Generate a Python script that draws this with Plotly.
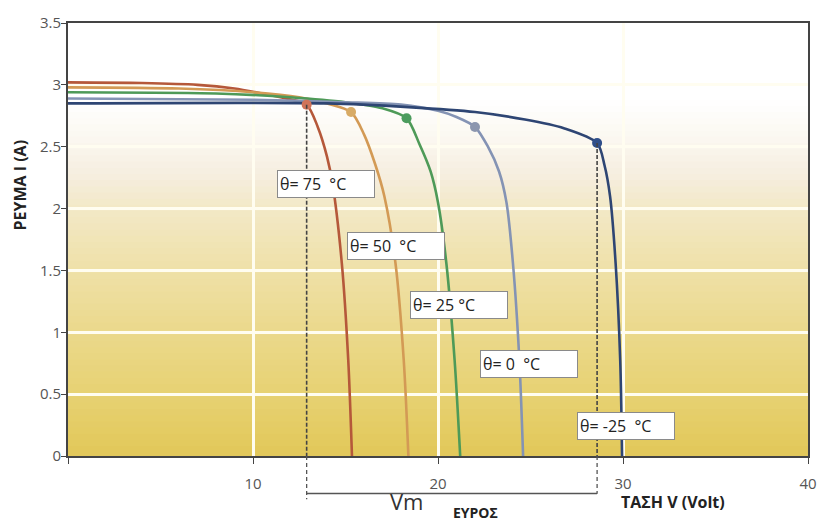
import plotly.graph_objects as go

# ---------------- data ----------------
temps = ["75", "50", "25", "0", "-25"]

v_75 = [0, 4, 7, 9, 10.5, 11.8, 12.9, 13.5, 14.0, 14.3, 14.8, 15.15, 15.35]
i_75 = [3.02, 3.015, 3.0, 2.97, 2.93, 2.89, 2.84, 2.66, 2.42, 2.20, 1.56, 0.77, 0]

v_50 = [0, 6, 10, 12.5, 14.0, 15.3, 16.0, 16.6, 17.1, 17.7, 18.15, 18.4]
i_50 = [2.98, 2.97, 2.94, 2.90, 2.85, 2.78, 2.60, 2.36, 2.10, 1.56, 0.77, 0]

v_25 = [0, 8, 12, 15, 17.0, 18.3, 19.0, 19.6, 20.0, 20.45, 20.9, 21.2]
i_25 = [2.94, 2.93, 2.90, 2.86, 2.81, 2.73, 2.52, 2.30, 2.05, 1.56, 0.77, 0]

v_0 = [0, 10, 15, 18, 20, 21, 22.0, 22.7, 23.3, 23.7, 24.05, 24.4, 24.6]
i_0 = [2.89, 2.88, 2.86, 2.84, 2.79, 2.74, 2.66, 2.50, 2.30, 2.05, 1.56, 0.77, 0]

v_m25 = [0, 14, 18.4, 22, 24.7, 26.8, 28.6, 29.0, 29.3, 29.6, 29.85, 29.95]
i_m25 = [2.85, 2.85, 2.82, 2.78, 2.72, 2.65, 2.53, 2.35, 2.10, 1.56, 0.77, 0]

mpp_v = [12.9, 15.3, 18.3, 22.0, 28.6]
mpp_i = [2.84, 2.78, 2.73, 2.66, 2.53]

label_text = ["θ= 75  °C", "θ= 50  °C", "θ= 25 °C", "θ= 0  °C", "θ= -25  °C"]
label_v = [11.3, 15.1, 18.5, 22.25, 27.5]
label_i = [2.20, 1.70, 1.22, 0.74, 0.24]

x_ticks = [0, 10, 20, 30, 40]
x_ticktext = ["", "10", "20", "30", "40"]
y_ticks = [0, 0.5, 1, 1.5, 2, 2.5, 3, 3.5]

# ---------------- styles ----------------
FONT = "Open Sans, sans-serif"
line_colors = ["#b5583a", "#d39a55", "#4e9a58", "#8493b4", "#2e4573"]
dot_colors = ["#d0735a", "#d8ab66", "#4c9c5e", "#8c96ae", "#2f4f8a"]

grad_levels = [0, 0.5, 1.0, 1.5, 2.0, 2.25, 2.55, 2.85, 3.5]
grad_colors = ["#e2c85a", "#e7d274", "#ebd98d", "#efe1a9", "#f3e9c9",
               "#f6eee0", "#fbf8f1", "#ffffff", "#ffffff"]


def hex2rgb(h):
    h = h.lstrip("#")
    return tuple(int(h[k:k + 2], 16) for k in (0, 2, 4))


def grad_color(y):
    for k in range(len(grad_levels) - 1):
        a, b = grad_levels[k], grad_levels[k + 1]
        if a <= y <= b:
            t = (y - a) / (b - a)
            c0, c1 = hex2rgb(grad_colors[k]), hex2rgb(grad_colors[k + 1])
            c = [round(c0[j] + (c1[j] - c0[j]) * t) for j in range(3)]
            return "rgb(%d,%d,%d)" % tuple(c)
    return "#ffffff"


fig = go.Figure()

series = [(v_75, i_75), (v_50, i_50), (v_25, i_25), (v_0, i_0), (v_m25, i_m25)]
for (vv, ii), col, t in zip(series, line_colors, temps):
    fig.add_trace(go.Scatter(x=vv, y=ii, mode="lines", name=t,
                             line=dict(color=col, width=2.6, shape="spline", smoothing=0.8),
                             showlegend=False, hoverinfo="skip"))

fig.add_trace(go.Scatter(x=mpp_v, y=mpp_i, mode="markers", showlegend=False,
                         marker=dict(size=10, color=dot_colors), hoverinfo="skip"))

shapes = []
# gradient background (overlapping strips, drawn from top to bottom to avoid seams)
step = 0.05
n = int(round(3.5 / step))
for k in reversed(range(n)):
    y0 = k * step
    shapes.append(dict(type="rect", xref="paper", yref="y", x0=0, x1=1,
                       y0=y0, y1=min(y0 + step * 1.6, 3.5), fillcolor=grad_color(y0 + step / 2),
                       line=dict(width=0), layer="below"))

# dashed lines at the extreme Vm values
vm_lo, vm_hi = mpp_v[0], mpp_v[-1]
for v, ii, yb in [(vm_lo, mpp_i[0], -0.1), (vm_hi, mpp_i[-1], -0.087)]:
    shapes.append(dict(type="line", xref="x", yref="y", x0=v, x1=v, y0=ii, y1=0,
                       line=dict(color="#444", width=1.6, dash="4px,2px"), layer="above"))
    shapes.append(dict(type="line", xref="x", yref="paper", x0=v, x1=v, y0=0, y1=yb,
                       line=dict(color="#555", width=1.3, dash="4px,3px")))
shapes.append(dict(type="line", xref="x", yref="paper", x0=vm_lo, x1=vm_hi,
                   y0=-0.0866, y1=-0.0866, line=dict(color="#555", width=1.5)))

annotations = []
for txt, v, ii in zip(label_text, label_v, label_i):
    annotations.append(dict(x=v, y=ii, xref="x", yref="y", text=txt, showarrow=False,
                            xanchor="left", yanchor="middle", align="left",
                            width=92, height=22, borderpad=2,
                            bgcolor="white", bordercolor="#8a8a8a", borderwidth=1,
                            font=dict(family=FONT, size=16, color="#222")))

annotations += [
    dict(text="<b>ΡΕΥΜΑ Ι (A)</b>", xref="paper", yref="paper", x=-0.0654, y=0.626,
         xanchor="center", yanchor="middle",
         textangle=-90, showarrow=False, font=dict(family=FONT, size=16, color="#222")),
    dict(text="<b>ΤΑΣΗ V (Volt)</b>", xref="paper", yref="paper", x=0.818, y=-0.107,
         xanchor="center", yanchor="middle",
         showarrow=False, font=dict(family=FONT, size=16, color="#222")),
    dict(text="<b>ΕΥΡΟΣ</b>", xref="paper", yref="paper", x=0.550, y=-0.131,
         xanchor="center", yanchor="middle",
         showarrow=False, font=dict(family=FONT, size=14, color="#222")),
    dict(text="Vm", xref="paper", yref="paper", x=0.457, y=-0.103,
         xanchor="center", yanchor="middle",
         showarrow=False, font=dict(family=FONT, size=22, color="#333")),
]

fig.update_layout(
    width=829, height=522,
    margin=dict(l=68, r=12, t=17, b=66),
    paper_bgcolor="white", plot_bgcolor="white",
    shapes=shapes, annotations=annotations,
    hovermode=False,
    xaxis=dict(range=[0, 40], tickvals=x_ticks, ticktext=x_ticktext,
               showgrid=True, gridcolor="#fffdf0", gridwidth=2.5,
               showline=True, linecolor="#444", linewidth=2, mirror=True,
               ticks="outside", ticklen=6, tickcolor="#444", zeroline=False,
               ticklabelstandoff=7,
               tickfont=dict(family=FONT, size=15, color="#555")),
    yaxis=dict(range=[0, 3.5], tickvals=y_ticks,
               showgrid=True, gridcolor="#fffdf0", gridwidth=2.5,
               showline=True, linecolor="#444", linewidth=2, mirror=True,
               ticks="outside", ticklen=5, tickcolor="#444", zeroline=False,
               ticklabelstandoff=-3,
               tickfont=dict(family=FONT, size=15, color="#555")),
)

fig.write_html("out.html", config={"displayModeBar": False},
               post_script="document.body.style.margin='0';document.body.style.overflow='hidden';")
